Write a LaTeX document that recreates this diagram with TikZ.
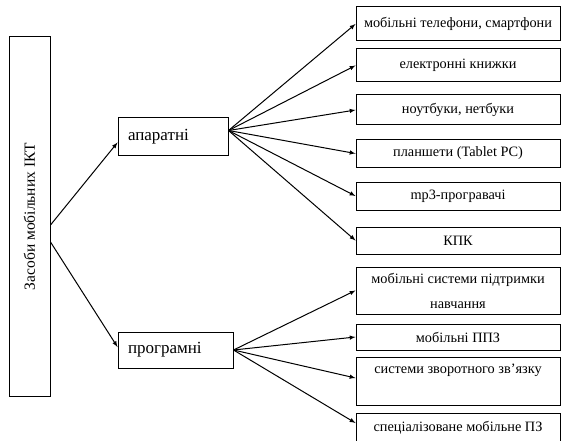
\documentclass[tikz,border=0pt]{standalone}
\usepackage{fontspec}
\setmainfont{Liberation Serif}
\usetikzlibrary{arrows,positioning}
\tikzset{
  basic/.style  = {draw, rectangle, line width=1pt, inner sep=0pt,
                   font=\fontsize{14.3}{25}\selectfont},
  root/.style   = {basic, minimum width=41pt, minimum height=359pt},
  level 2/.style = {basic, align=left, inner xsep=10pt,
                   font=\fontsize{17}{25}\selectfont},
  level 3/.style = {basic, align=center, minimum width=204pt}
}

\begin{document}
\begin{tikzpicture}[x=1pt, y=-1pt, >=latex, line width=1pt]
\useasboundingbox (0,0) rectangle (562,441);

% root, drawn upright with the text turned
\node[root] (m1) at (29.5,216.5) {};
\node[rotate=90, font=\fontsize{15.5}{25}\selectfont] (t1) at (m1.center) {Засоби мобільних ІКТ};

% the two kinds
\node[level 2, minimum width=110pt, minimum height=37pt, text width=90pt] (c1) at (173,136.5) {апаратні};
\node[level 2, minimum width=115pt, minimum height=36pt, text width=95pt] (c2) at (175.5,350) {програмні};

% hardware
\node[level 3, minimum height=34pt] (c11) at (458,24) {мобільні телефони, смартфони};
\node[level 3, minimum height=33pt] (c12) at (458,65.5) {електронні книжки};
\node[level 3, minimum height=30pt] (c13) at (458,110) {ноутбуки, нетбуки};
\node[level 3, minimum height=27pt] (c14) at (458,153.5) {планшети (Tablet PC)};
\node[level 3, minimum height=28pt] (c15) at (458,196) {mp3-програвачі};
\node[level 3, minimum height=27pt] (c16) at (458,240.5) {КПК};

% software
\node[level 3, minimum height=47pt] (c21) at (458,290.5) {мобільні системи підтримки\\навчання};
\node[level 3, minimum height=26pt] (c22) at (458,337) {мобільні ППЗ};
\node[level 3, minimum height=48pt] (c23) at (458,381) {системи зворотного зв’язку\\\mbox{}};
\node[level 3, minimum height=30pt] (c24) at (458,428) {спеціалізоване мобільне ПЗ};

% from the root
\draw[->] ([yshift=-8.5pt]m1.east) -- ([yshift=-6pt]c1.west);
\draw[->] ([yshift=-25.5pt]m1.east) -- ([yshift=3pt]c2.west);

% hardware lines
\coordinate (a1) at ([yshift=6pt]c1.east);
  \draw[->] (a1) -- (c11.west);
  \draw[->] (a1) -- (c12.west);
  \draw[->] (a1) -- (c13.west);
  \draw[->] (a1) -- (c14.west);
  \draw[->] (a1) -- (c15.west);
  \draw[->] (a1) -- (c16.west);

% software lines
  \draw[->] (c2.east) -- (c21.west);
  \draw[->] (c2.east) -- (c22.west);
  \draw[->] (c2.east) -- ([yshift=3pt]c23.west);
  \draw[->] (c2.east) -- ([yshift=5pt]c24.west);

\end{tikzpicture}
\end{document}
